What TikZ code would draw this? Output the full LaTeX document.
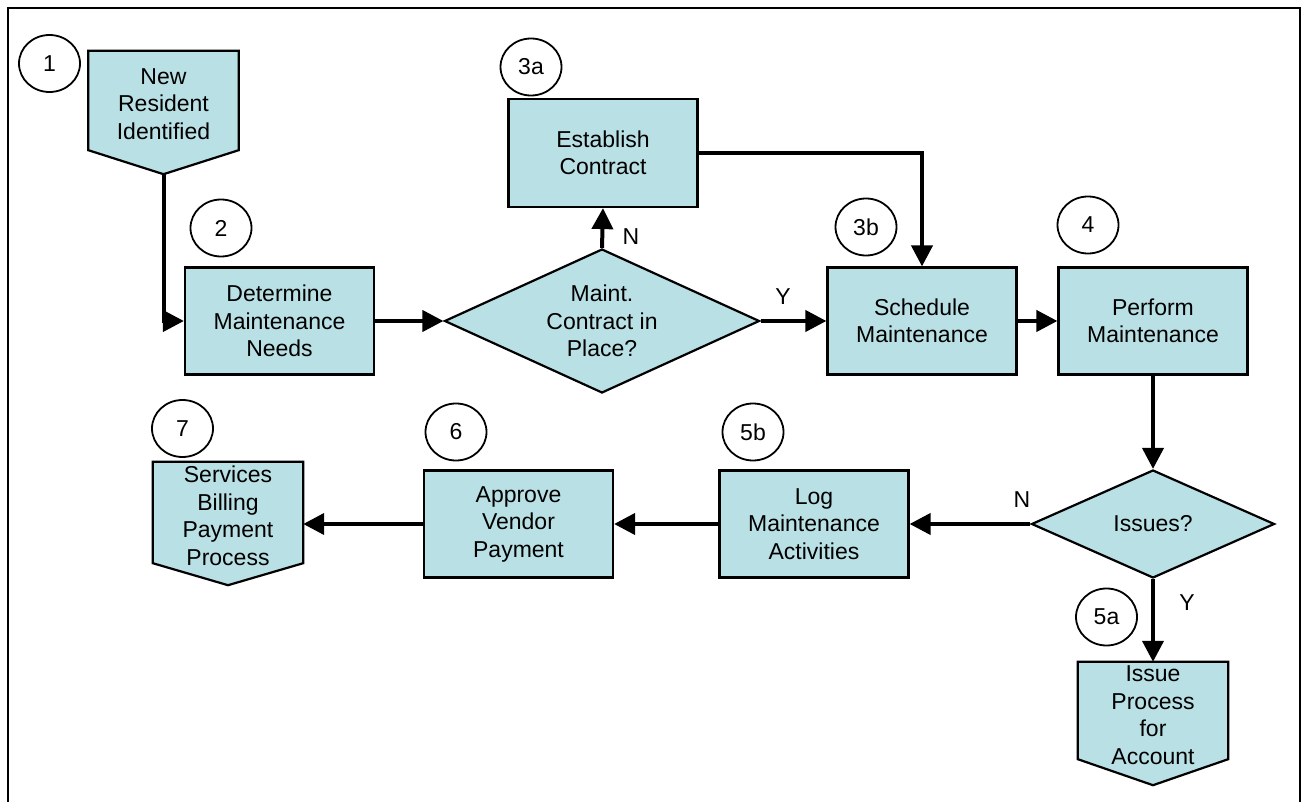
\documentclass[tikz,border=0pt]{standalone}
\usepackage{fontspec}
\setmainfont{Liberation Sans}
\usetikzlibrary{shapes.geometric,arrows.meta,calc}
\definecolor{boxfill}{RGB}{185,224,228}
\tikzset{
  txt/.style={font=\fontsize{23}{27.5}\selectfont, align=center, inner sep=0pt},
  procbox/.style={txt, draw, line width=2.2pt, fill=boxfill, minimum width=189pt, minimum height=107pt},
  decision/.style={diamond, draw, line width=2.2pt, fill=boxfill, inner sep=0pt},
  offrect/.style={inner sep=0pt, minimum width=150pt, minimum height=99pt},
  offshape/.style={draw, line width=2.2pt, fill=boxfill, line join=miter},
  stepnum/.style={txt, ellipse, draw, line width=1.8pt, minimum width=61pt, minimum height=57pt},
  conn/.style={line width=4pt, -{Triangle[length=21pt,width=21pt]}},
  lbl/.style={txt}
}
\begin{document}
\begin{tikzpicture}[x=1pt,y=-1pt]
\useasboundingbox (0,0) rectangle (1302,802);
% frame
\draw[line width=2.5pt] (8,802) -- (8,8) -- (1300,8) -- (1300,802);

% 1 off-page start
\node[offrect] (n1) at (163.5,100.5) {};
\draw[offshape] (n1.north west) -- (n1.north east) -- (n1.south east) -- ([yshift=-24pt]n1.south) -- (n1.south west) -- cycle;
\coordinate (n1tip) at ([yshift=-24pt]n1.south);
\node[txt] (t1) at (163.5,104) {New\\Resident\\Identified};
\node[stepnum] (c1) at (49.5,63.5) {1};

% 2
\node[procbox] (n2) at (279.5,321) {Determine\\Maintenance\\Needs};
\node[stepnum] (c2) at (221,228) {2};

% decision 1
\node[decision, minimum width=315pt, minimum height=144pt] (d1) at (602,321) {};
\node[txt] (td1) at (602,321) {Maint.\\Contract in\\Place?};

% 3a
\node[procbox, minimum height=108pt] (n3a) at (603,153) {Establish\\Contract};
\node[stepnum] (c3a) at (531,67) {3a};

% 3b
\node[procbox] (n3b) at (922,321) {Schedule\\Maintenance};
\node[stepnum] (c3b) at (866,227) {3b};

% 4
\node[procbox] (n4) at (1153,321) {Perform\\Maintenance};
\node[stepnum] (c4) at (1088,225) {4};

% decision 2
\node[decision, minimum width=243pt, minimum height=108pt] (d2) at (1153,524) {};
\node[txt] (td2) at (1153,524) {Issues?};

% 5a off-page
\node[offrect, minimum height=97pt] (n5a) at (1153,710.5) {};
\draw[offshape] (n5a.north west) -- (n5a.north east) -- (n5a.south east) -- ([yshift=-26pt]n5a.south) -- (n5a.south west) -- cycle;
\node[txt] (t5a) at (1153,715) {Issue\\Process\\for\\Account};
\node[stepnum] (c5a) at (1106.5,617) {5a};

% 5b
\node[procbox] (n5b) at (814,524) {Log\\Maintenance\\Activities};
\node[stepnum] (c5b) at (753,432) {5b};

% 6
\node[procbox] (n6) at (518.5,524) {Approve\\Vendor\\Payment};
\node[stepnum] (c6) at (456,432) {6};

% 7 off-page
\node[offrect, minimum height=101pt] (n7) at (228,512.5) {};
\draw[offshape] (n7.north west) -- (n7.north east) -- (n7.south east) -- ([yshift=-22pt]n7.south) -- (n7.south west) -- cycle;
\node[txt] (t7) at (228,516) {Services\\Billing\\Payment\\Process};
\node[stepnum] (c7) at (182.5,428.5) {7};

% connectors
\draw[conn] (n1tip) |- (n2.west);
\draw[conn] (n2.east) -- (d1.west);
\draw[conn] (d1.north) -- (n3a.south);
\draw[conn] (d1.east) -- (n3b.west);
\draw[conn] (n3a.east) -| (n3b.north);
\draw[conn] (n3b.east) -- (n4.west);
\draw[conn] (n4.south) -- (d2.north);
\draw[conn] (d2.west) -- (n5b.east);
\draw[conn] (d2.south) -- (n5a.north);
\draw[conn] (n5b.west) -- (n6.east);
\draw[conn] (n6.west) -- (n6.west -| n7.east);

% labels
\node[lbl] (lN1) at (631,237) {N};
\node[lbl] (lY1) at (783,297) {Y};
\node[lbl] (lN2) at (1022,500) {N};
\node[lbl] (lY2) at (1187,603) {Y};
\end{tikzpicture}
\end{document}
